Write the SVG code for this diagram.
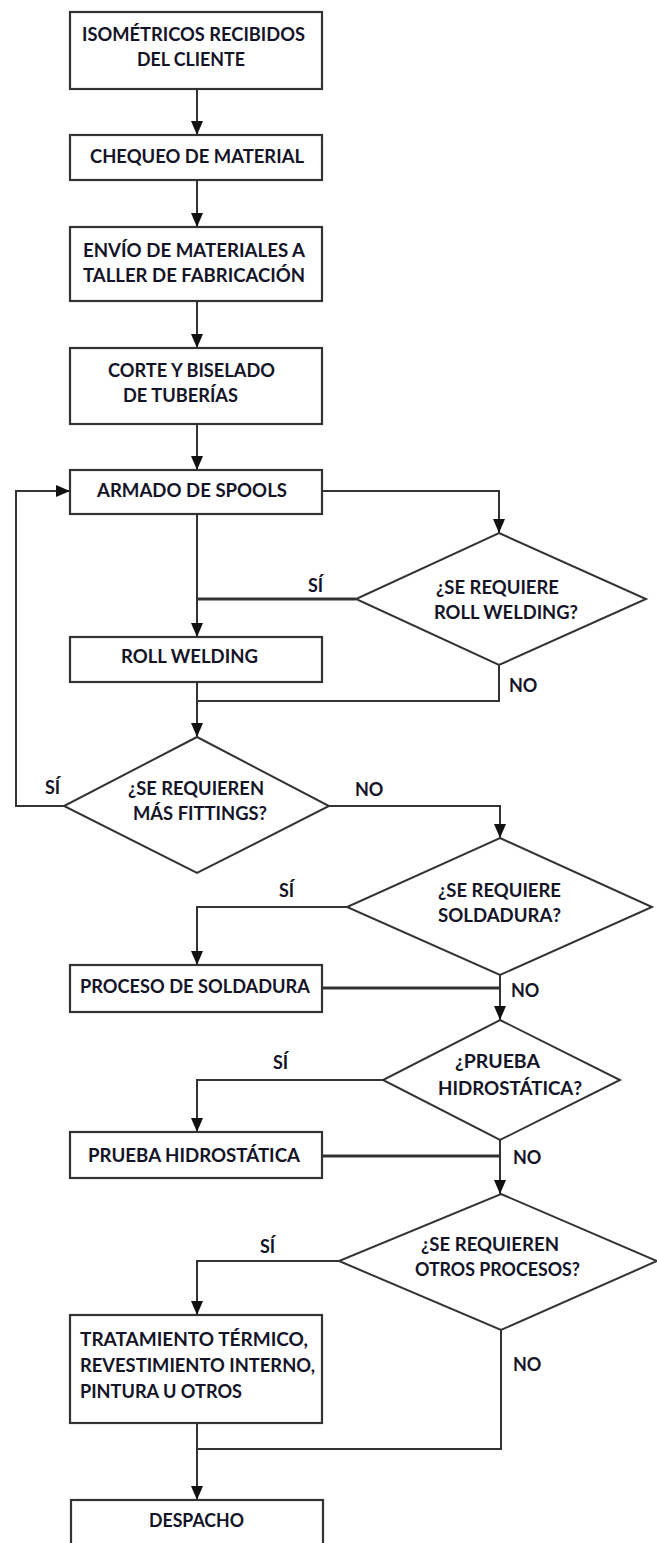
<svg xmlns="http://www.w3.org/2000/svg" width="657" height="1543" viewBox="0 0 657 1543">
  <style>
    .box { fill: #ffffff; stroke: #333333; stroke-width: 2.2; }
    .dia { fill: #ffffff; stroke: #333333; stroke-width: 2; }
    .t { font-family: Lato, "Liberation Sans", sans-serif; font-weight: 700; font-size: 18px; fill: #141428; }
    .wire { fill: none; stroke: #333333; stroke-width: 2; }
    .flow { fill: none; stroke: #333333; stroke-width: 2; marker-end: url(#arrow); }
  </style>
  <defs>
    <marker id="arrow" markerUnits="userSpaceOnUse" markerWidth="14" markerHeight="14" viewBox="0 0 14 14" refX="14" refY="7" orient="auto">
      <path d="M0,1 L14,7 L0,13 Z" fill="#111111"/>
    </marker>
  </defs>
  <rect width="657" height="1543" fill="#ffffff"/>

  <!-- connectors -->
  <g id="connectors">
    <path class="flow" d="M197,89 V135"/>
    <path class="flow" d="M197,180 V227"/>
    <path class="flow" d="M197,301 V348"/>
    <path class="flow" d="M197,424 V470"/>
    <path class="flow" d="M322,491 H499 V533"/>
    <path class="flow" d="M197,514 V637"/>
    <path class="wire" d="M356,599 H197" style="stroke-width:2.8"/>
    <path class="wire" d="M499,665 V701 H197"/>
    <path class="flow" d="M197,682 V737"/>
    <path class="flow" d="M64,806 H16 V491 H70"/>
    <path class="flow" d="M329,806 H500 V838"/>
    <path class="flow" d="M347,907 H197 V965"/>
    <path class="wire" d="M322,988 H500" style="stroke-width:2.8"/>
    <path class="flow" d="M500,975 V1020"/>
    <path class="flow" d="M383,1080 H197 V1132"/>
    <path class="wire" d="M322,1156 H500" style="stroke-width:2.8"/>
    <path class="flow" d="M500,1140 V1194"/>
    <path class="flow" d="M339,1261 H197 V1315"/>
    <path class="wire" d="M501,1330 V1449 H197"/>
    <path class="flow" d="M197,1423 V1500"/>
  </g>

  <!-- connector labels -->
  <g id="labels">
    <text class="t" x="308" y="592">SÍ</text>
    <text class="t" x="509" y="692">NO</text>
    <text class="t" x="45" y="794">SÍ</text>
    <text class="t" x="355" y="796">NO</text>
    <text class="t" x="279" y="897">SÍ</text>
    <text class="t" x="511" y="997">NO</text>
    <text class="t" x="273" y="1069">SÍ</text>
    <text class="t" x="513" y="1164">NO</text>
    <text class="t" x="260" y="1253">SÍ</text>
    <text class="t" x="513" y="1371">NO</text>
  </g>

  <g id="isometricos">
    <rect class="box" x="70" y="12" width="252" height="77"/>
    <text class="t" x="82" y="41" textLength="223" lengthAdjust="spacingAndGlyphs">ISOMÉTRICOS RECIBIDOS</text>
    <text class="t" x="137" y="66" textLength="108" lengthAdjust="spacingAndGlyphs">DEL CLIENTE</text>
  </g>

  <g id="chequeo">
    <rect class="box" x="70" y="135" width="252" height="45"/>
    <text class="t" x="90" y="163" textLength="214" lengthAdjust="spacingAndGlyphs">CHEQUEO DE MATERIAL</text>
  </g>

  <g id="envio">
    <rect class="box" x="70" y="227" width="252" height="74"/>
    <text class="t" x="83" y="257" textLength="222" lengthAdjust="spacingAndGlyphs">ENVÍO DE MATERIALES A</text>
    <text class="t" x="83" y="282" textLength="222" lengthAdjust="spacingAndGlyphs">TALLER DE FABRICACIÓN</text>
  </g>

  <g id="corte">
    <rect class="box" x="70" y="348" width="252" height="76"/>
    <text class="t" x="108" y="377" textLength="167" lengthAdjust="spacingAndGlyphs">CORTE Y BISELADO</text>
    <text class="t" x="123" y="402" textLength="115" lengthAdjust="spacingAndGlyphs">DE TUBERÍAS</text>
  </g>

  <g id="armado">
    <rect class="box" x="70" y="470" width="252" height="44"/>
    <text class="t" x="97" y="497" textLength="190" lengthAdjust="spacingAndGlyphs">ARMADO DE SPOOLS</text>
  </g>

  <g id="q-roll-welding">
    <polygon class="dia" points="499,533 646,599 499,665 356,599"/>
    <text class="t" x="436" y="594" textLength="123" lengthAdjust="spacingAndGlyphs">¿SE REQUIERE</text>
    <text class="t" x="434" y="619" textLength="144" lengthAdjust="spacingAndGlyphs">ROLL WELDING?</text>
  </g>

  <g id="roll-welding">
    <rect class="box" x="70" y="637" width="252" height="45"/>
    <text class="t" x="121" y="663" textLength="137" lengthAdjust="spacingAndGlyphs">ROLL WELDING</text>
  </g>

  <g id="q-fittings">
    <polygon class="dia" points="197,737 329,806 197,873 64,806"/>
    <text class="t" x="128" y="795" textLength="136" lengthAdjust="spacingAndGlyphs">¿SE REQUIEREN</text>
    <text class="t" x="133" y="820" textLength="134" lengthAdjust="spacingAndGlyphs">MÁS FITTINGS?</text>
  </g>

  <g id="q-soldadura">
    <polygon class="dia" points="500,838 652,907 500,975 347,907"/>
    <text class="t" x="438" y="897" textLength="123" lengthAdjust="spacingAndGlyphs">¿SE REQUIERE</text>
    <text class="t" x="438" y="922" textLength="123" lengthAdjust="spacingAndGlyphs">SOLDADURA?</text>
  </g>

  <g id="soldadura">
    <rect class="box" x="70" y="965" width="252" height="47"/>
    <text class="t" x="80" y="993" textLength="230" lengthAdjust="spacingAndGlyphs">PROCESO DE SOLDADURA</text>
  </g>

  <g id="q-hidrostatica">
    <polygon class="dia" points="500,1020 620,1080 500,1140 383,1080"/>
    <text class="t" x="455" y="1068" textLength="85" lengthAdjust="spacingAndGlyphs">¿PRUEBA</text>
    <text class="t" x="438" y="1095" textLength="144" lengthAdjust="spacingAndGlyphs">HIDROSTÁTICA?</text>
  </g>

  <g id="hidrostatica">
    <rect class="box" x="70" y="1132" width="252" height="46"/>
    <text class="t" x="88" y="1162" textLength="212" lengthAdjust="spacingAndGlyphs">PRUEBA HIDROSTÁTICA</text>
  </g>

  <g id="q-otros">
    <polygon class="dia" points="501,1194 657,1261 501,1330 339,1261"/>
    <text class="t" x="421" y="1251" textLength="138" lengthAdjust="spacingAndGlyphs">¿SE REQUIEREN</text>
    <text class="t" x="415" y="1276" textLength="165" lengthAdjust="spacingAndGlyphs">OTROS PROCESOS?</text>
  </g>

  <g id="otros">
    <rect class="box" x="70" y="1315" width="252" height="108"/>
    <text class="t" x="80" y="1346" textLength="228" lengthAdjust="spacingAndGlyphs">TRATAMIENTO TÉRMICO,</text>
    <text class="t" x="80" y="1372" textLength="235" lengthAdjust="spacingAndGlyphs">REVESTIMIENTO INTERNO,</text>
    <text class="t" x="80" y="1398" textLength="162" lengthAdjust="spacingAndGlyphs">PINTURA U OTROS</text>
  </g>

  <g id="despacho">
    <!-- box runs off the bottom edge of the sheet -->
    <rect class="box" x="71" y="1500" width="252" height="60"/>
    <text class="t" x="149" y="1527" textLength="95" lengthAdjust="spacingAndGlyphs">DESPACHO</text>
  </g>
</svg>
